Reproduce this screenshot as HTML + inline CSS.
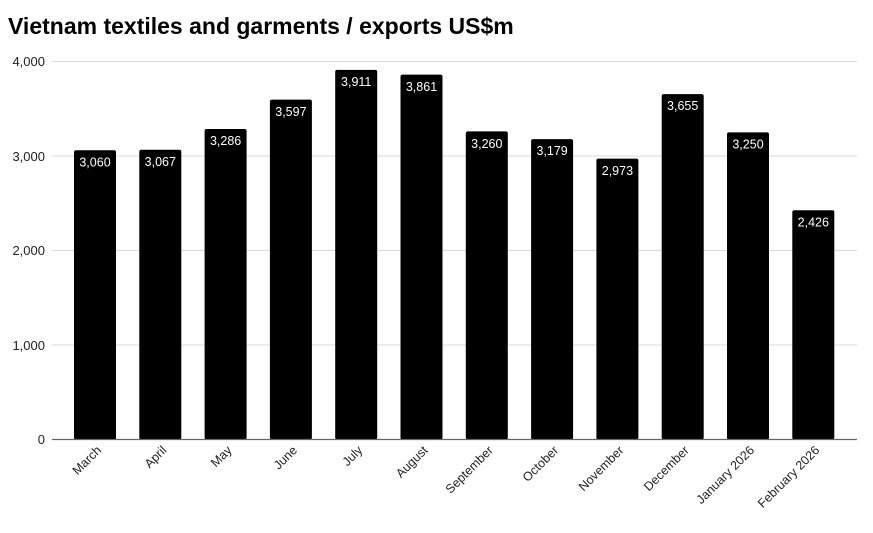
<!DOCTYPE html>
<html><head><meta charset="utf-8"><style>body{margin:0;background:#fff}svg{display:block}</style></head><body>
<svg width="873" height="533" xmlns="http://www.w3.org/2000/svg" font-family="Liberation Sans, Arial, sans-serif">
<text x="8" y="34" font-size="23" font-weight="bold" fill="#000">Vietnam textiles and garments / exports US$m</text>
<g stroke="#d9d9d9" stroke-width="1">
<line x1="52" x2="857" y1="61.5" y2="61.5"/><line x1="52" x2="857" y1="156" y2="156"/><line x1="52" x2="857" y1="250.5" y2="250.5"/><line x1="52" x2="857" y1="345" y2="345"/>
</g>
<g font-size="13" fill="#222" text-anchor="end">
<text x="45" y="66">4,000</text><text x="45" y="161">3,000</text><text x="45" y="255">2,000</text><text x="45" y="350">1,000</text><text x="45" y="444">0</text>
</g>
<g fill="#000">
<rect x="74" y="150.3" width="42" height="289.2" rx="2"/>
<rect x="139.3" y="149.7" width="42" height="289.8" rx="2"/>
<rect x="204.6" y="129" width="42" height="310.5" rx="2"/>
<rect x="269.9" y="99.6" width="42" height="339.9" rx="2"/>
<rect x="335.2" y="69.9" width="42" height="369.6" rx="2"/>
<rect x="400.5" y="74.6" width="42" height="364.9" rx="2"/>
<rect x="465.8" y="131.4" width="42" height="308.1" rx="2"/>
<rect x="531.1" y="139.1" width="42" height="300.4" rx="2"/>
<rect x="596.4" y="158.6" width="42" height="280.9" rx="2"/>
<rect x="661.7" y="94.1" width="42" height="345.4" rx="2"/>
<rect x="727" y="132.4" width="42" height="307.1" rx="2"/>
<rect x="792.3" y="210.2" width="42" height="229.3" rx="2"/>
</g>
<g font-size="12.5" fill="#fff" text-anchor="middle">
<text x="95" y="166.5">3,060</text>
<text x="160.3" y="166">3,067</text>
<text x="225.6" y="145">3,286</text>
<text x="290.9" y="116">3,597</text>
<text x="356.2" y="86">3,911</text>
<text x="421.5" y="91">3,861</text>
<text x="486.8" y="148">3,260</text>
<text x="552.1" y="155">3,179</text>
<text x="617.4" y="175">2,973</text>
<text x="682.7" y="110">3,655</text>
<text x="748" y="148.5">3,250</text>
<text x="813.3" y="226.5">2,426</text>
</g>
<line x1="52" x2="857" y1="439.5" y2="439.5" stroke="#666" stroke-width="1.2"/>
<g font-size="12.5" fill="#222" text-anchor="end">
<text transform="translate(102,451) rotate(-45)">March</text>
<text transform="translate(167.3,451) rotate(-45)">April</text>
<text transform="translate(232.6,451) rotate(-45)">May</text>
<text transform="translate(297.9,451) rotate(-45)">June</text>
<text transform="translate(363.2,451) rotate(-45)">July</text>
<text transform="translate(428.5,451) rotate(-45)">August</text>
<text transform="translate(493.8,451) rotate(-45)">September</text>
<text transform="translate(559.1,451) rotate(-45)">October</text>
<text transform="translate(624.4,451) rotate(-45)">November</text>
<text transform="translate(689.7,451) rotate(-45)">December</text>
<text transform="translate(755,451) rotate(-45)">January 2026</text>
<text transform="translate(820.3,451) rotate(-45)">February 2026</text>
</g>
</svg>
</body></html>
